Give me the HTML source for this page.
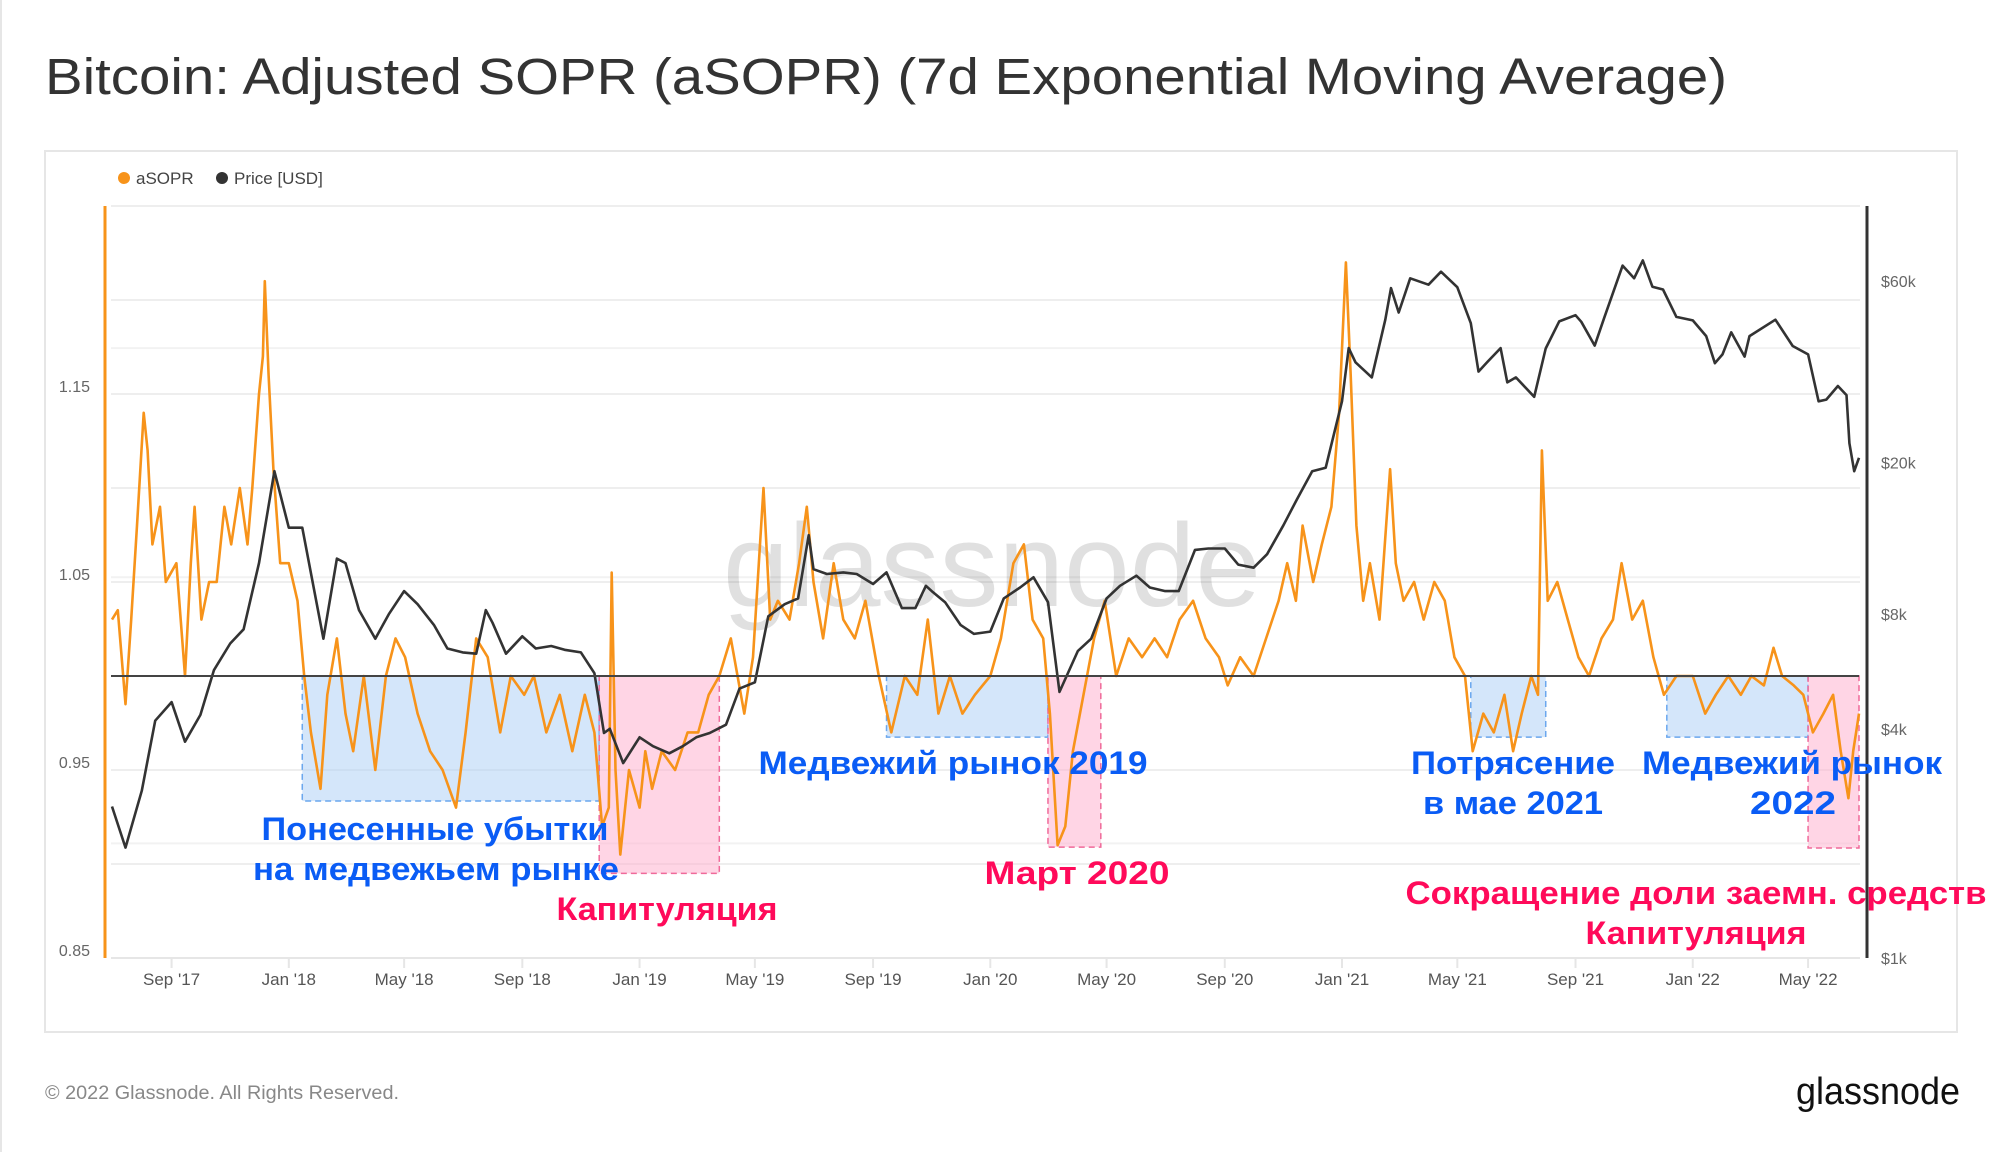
<!DOCTYPE html>
<html><head><meta charset="utf-8"><style>
body{margin:0;background:#fff;width:2000px;height:1152px;overflow:hidden;font-family:"Liberation Sans","DejaVu Sans",sans-serif;}
</style></head><body>
<svg id="chart" width="2000" height="1152" viewBox="0 0 2000 1152" xmlns="http://www.w3.org/2000/svg" style="font-family:'Liberation Sans','DejaVu Sans',sans-serif">
<rect x="0" y="0" width="2000" height="1152" fill="#fff"/>
<rect x="0" y="0" width="2" height="1152" fill="#e6e6e6"/>
<text x="45" y="94" font-size="51" fill="#333" textLength="1682" lengthAdjust="spacingAndGlyphs">Bitcoin: Adjusted SOPR (aSOPR) (7d Exponential Moving Average)</text>
<rect x="45" y="151" width="1912" height="881" fill="#fff" stroke="#e6e6e6" stroke-width="2"/>
<g>
<circle cx="124" cy="178" r="6" fill="#f7931a"/>
<text x="136" y="184" font-size="17" fill="#444">aSOPR</text>
<circle cx="222" cy="178" r="6" fill="#333"/>
<text x="234" y="184" font-size="17" fill="#444">Price [USD]</text>
</g>
<g id="grid"></g>
<g id="zones"></g>
<text x="992" y="606" font-size="118" fill="#000" fill-opacity="0.12" text-anchor="middle">glassnode</text>
<g id="series"></g>
<g id="axes"></g>
<g id="notes" font-weight="bold" font-size="32" text-anchor="middle" lengthAdjust="spacingAndGlyphs">
<text x="435" y="840" fill="#0a5cf5" textLength="347" lengthAdjust="spacingAndGlyphs">Понесенные убытки</text>
<text x="436" y="880" fill="#0a5cf5" textLength="366" lengthAdjust="spacingAndGlyphs">на медвежьем рынке</text>
<text x="667" y="920" fill="#ff0a5a" textLength="221" lengthAdjust="spacingAndGlyphs">Капитуляция</text>
<text x="953" y="774" fill="#0a5cf5" textLength="389" lengthAdjust="spacingAndGlyphs">Медвежий рынок 2019</text>
<text x="1077" y="884" fill="#ff0a5a" textLength="185" lengthAdjust="spacingAndGlyphs">Март 2020</text>
<text x="1513" y="774" fill="#0a5cf5" textLength="204" lengthAdjust="spacingAndGlyphs">Потрясение</text>
<text x="1513" y="814" fill="#0a5cf5" textLength="180" lengthAdjust="spacingAndGlyphs">в мае 2021</text>
<text x="1792" y="774" fill="#0a5cf5" textLength="300" lengthAdjust="spacingAndGlyphs">Медвежий рынок</text>
<text x="1793" y="814" fill="#0a5cf5" textLength="86" lengthAdjust="spacingAndGlyphs">2022</text>
<text x="1696" y="904" fill="#ff0a5a" textLength="581" lengthAdjust="spacingAndGlyphs">Сокращение доли заемн. средств</text>
<text x="1696" y="944" fill="#ff0a5a" textLength="221" lengthAdjust="spacingAndGlyphs">Капитуляция</text>
</g>
<text x="45" y="1099" font-size="19" fill="#888" textLength="354" lengthAdjust="spacingAndGlyphs">© 2022 Glassnode. All Rights Reserved.</text>
<text x="1796" y="1104" font-size="38" fill="#111" textLength="164" lengthAdjust="spacingAndGlyphs">glassnode</text>
</svg>
<script>
const asoprDates=["2017-07-01","2017-07-07","2017-07-15","2017-07-21","2017-07-27","2017-08-03","2017-08-07","2017-08-12","2017-08-20","2017-08-26","2017-09-06","2017-09-15","2017-09-21","2017-09-25","2017-10-02","2017-10-10","2017-10-18","2017-10-26","2017-11-02","2017-11-11","2017-11-19","2017-11-24","2017-12-01","2017-12-05","2017-12-07","2017-12-11","2017-12-16","2017-12-23","2018-01-01","2018-01-10","2018-01-17","2018-01-24","2018-02-03","2018-02-10","2018-02-20","2018-03-01","2018-03-09","2018-03-20","2018-04-01","2018-04-12","2018-04-22","2018-05-02","2018-05-15","2018-05-28","2018-06-10","2018-06-24","2018-07-04","2018-07-15","2018-07-27","2018-08-09","2018-08-20","2018-09-03","2018-09-13","2018-09-26","2018-10-10","2018-10-23","2018-11-05","2018-11-15","2018-11-23","2018-11-30","2018-12-03","2018-12-07","2018-12-12","2018-12-21","2019-01-01","2019-01-07","2019-01-14","2019-01-24","2019-02-07","2019-02-20","2019-03-03","2019-03-14","2019-03-25","2019-04-06","2019-04-20","2019-04-29","2019-05-10","2019-05-17","2019-05-25","2019-06-06","2019-06-16","2019-06-24","2019-07-01","2019-07-11","2019-07-22","2019-08-01","2019-08-13","2019-08-24","2019-09-07","2019-09-20","2019-10-04","2019-10-17","2019-10-28","2019-11-08","2019-11-20","2019-12-03","2019-12-16","2020-01-01","2020-01-12","2020-01-25","2020-02-05","2020-02-14","2020-02-25","2020-03-03","2020-03-11","2020-03-19","2020-03-27","2020-04-07","2020-04-18","2020-04-29","2020-05-11","2020-05-24","2020-06-07","2020-06-20","2020-07-03","2020-07-16","2020-07-30","2020-08-12","2020-08-26","2020-09-04","2020-09-17","2020-10-01","2020-10-14","2020-10-27","2020-11-05","2020-11-14","2020-11-21","2020-12-02","2020-12-11","2020-12-21","2020-12-29","2021-01-05","2021-01-10","2021-01-16","2021-01-23","2021-01-30","2021-02-09","2021-02-20","2021-02-26","2021-03-06","2021-03-17","2021-03-27","2021-04-07","2021-04-18","2021-04-28","2021-05-09","2021-05-17","2021-05-28","2021-06-08","2021-06-19","2021-06-28","2021-07-07","2021-07-17","2021-07-24","2021-07-28","2021-08-03","2021-08-13","2021-08-24","2021-09-04","2021-09-15","2021-09-28","2021-10-10","2021-10-19","2021-10-30","2021-11-10","2021-11-21","2021-12-02","2021-12-15","2022-01-01","2022-01-14","2022-01-25","2022-02-07","2022-02-20","2022-03-03","2022-03-16","2022-03-26","2022-04-04","2022-04-16","2022-04-26","2022-05-06","2022-05-17","2022-05-27","2022-06-04","2022-06-12","2022-06-17","2022-06-23"];
const asoprValues=[1.03,1.035,0.985,1.03,1.08,1.14,1.12,1.07,1.09,1.05,1.06,1.0,1.06,1.09,1.03,1.05,1.05,1.09,1.07,1.10,1.07,1.10,1.15,1.17,1.21,1.16,1.11,1.06,1.06,1.04,1.0,0.97,0.94,0.99,1.02,0.98,0.96,1.0,0.95,1.0,1.02,1.01,0.98,0.96,0.95,0.93,0.97,1.02,1.01,0.97,1.0,0.99,1.0,0.97,0.99,0.96,0.99,0.97,0.92,0.93,1.055,0.95,0.905,0.95,0.93,0.96,0.94,0.96,0.95,0.97,0.97,0.99,1.0,1.02,0.98,1.01,1.1,1.03,1.04,1.03,1.06,1.09,1.05,1.02,1.06,1.03,1.02,1.04,1.0,0.97,1.0,0.99,1.03,0.98,1.0,0.98,0.99,1.0,1.02,1.06,1.07,1.03,1.02,0.98,0.91,0.92,0.96,0.99,1.02,1.04,1.0,1.02,1.01,1.02,1.01,1.03,1.04,1.02,1.01,0.995,1.01,1.0,1.02,1.04,1.06,1.04,1.08,1.05,1.07,1.09,1.14,1.22,1.16,1.08,1.04,1.06,1.03,1.11,1.06,1.04,1.05,1.03,1.05,1.04,1.01,1.0,0.96,0.98,0.97,0.99,0.96,0.98,1.0,0.99,1.12,1.04,1.05,1.03,1.01,1.0,1.02,1.03,1.06,1.03,1.04,1.01,0.99,1.0,1.0,0.98,0.99,1.0,0.99,1.0,0.995,1.015,1.0,0.995,0.99,0.97,0.98,0.99,0.96,0.935,0.96,0.98];
const priceDates=["2017-07-01","2017-07-15","2017-08-01","2017-08-15","2017-09-01","2017-09-15","2017-10-01","2017-10-15","2017-11-01","2017-11-15","2017-12-01","2017-12-17","2018-01-01","2018-01-15","2018-02-06","2018-02-20","2018-03-01","2018-03-15","2018-04-01","2018-04-15","2018-05-01","2018-05-15","2018-06-01","2018-06-15","2018-07-01","2018-07-15","2018-07-25","2018-08-01","2018-08-15","2018-09-01","2018-09-15","2018-10-01","2018-10-15","2018-11-01","2018-11-15","2018-11-25","2018-12-01","2018-12-15","2019-01-01","2019-01-15","2019-02-01","2019-02-15","2019-03-01","2019-03-15","2019-04-01","2019-04-15","2019-05-01","2019-05-15","2019-06-01","2019-06-15","2019-06-26","2019-07-01","2019-07-15","2019-08-01","2019-08-15","2019-09-01","2019-09-15","2019-10-01","2019-10-15","2019-10-26","2019-11-01","2019-11-15","2019-12-01","2019-12-15","2020-01-01","2020-01-15","2020-02-01","2020-02-15","2020-03-01","2020-03-13","2020-04-01","2020-04-15","2020-05-01","2020-05-15","2020-06-01","2020-06-15","2020-07-01","2020-07-15","2020-08-01","2020-08-15","2020-09-01","2020-09-15","2020-10-01","2020-10-15","2020-11-01","2020-11-15","2020-12-01","2020-12-15","2021-01-01","2021-01-08","2021-01-15","2021-02-01","2021-02-15","2021-02-21","2021-03-01","2021-03-13","2021-04-01","2021-04-14","2021-05-01","2021-05-15","2021-05-23","2021-06-01","2021-06-15","2021-06-22","2021-07-01","2021-07-20","2021-08-01","2021-08-15","2021-09-01","2021-09-07","2021-09-21","2021-10-01","2021-10-20","2021-11-01","2021-11-10","2021-11-20","2021-12-01","2021-12-15","2022-01-01","2022-01-15","2022-01-24","2022-02-01","2022-02-10","2022-02-24","2022-03-01","2022-03-28","2022-04-15","2022-05-01","2022-05-12","2022-05-20","2022-06-01","2022-06-10","2022-06-13","2022-06-18","2022-06-23"];
const priceValues=[2500,1950,2750,4200,4700,3700,4350,5700,6700,7300,10900,19000,13500,13500,6900,11200,10900,8200,6900,8000,9200,8500,7500,6500,6350,6300,8200,7600,6300,7000,6500,6600,6450,6350,5600,3900,4000,3250,3800,3600,3450,3600,3800,3900,4100,5100,5300,7900,8500,8800,12900,10500,10200,10300,10200,9600,10300,8300,8300,9500,9200,8600,7500,7100,7200,8800,9400,10000,8600,5000,6400,6900,8800,9500,10100,9400,9200,9200,11800,11900,11900,10800,10600,11500,13700,16000,19000,19400,29000,40000,36700,33500,47500,57500,49600,61000,58700,63500,57800,46500,34700,36700,40000,32500,33500,29800,39900,47000,48800,46900,40600,48100,65900,61000,68000,58000,57000,48300,47300,43000,36500,38500,44000,38000,43000,47500,40500,38500,29000,29300,31800,30100,22500,19000,20600];
const leftTicks=[0.85,0.95,1.05,1.15];
const rightTicks=[1000,4000,8000,20000,60000];
const rightTickLabels=["$1k","$4k","$8k","$20k","$60k"];
const xTickDates=["2017-09-01","2018-01-01","2018-05-01","2018-09-01","2019-01-01","2019-05-01","2019-09-01","2020-01-01","2020-05-01","2020-09-01","2021-01-01","2021-05-01","2021-09-01","2022-01-01","2022-05-01"];
const xTickLabels=["Sep '17","Jan '18","May '18","Sep '18","Jan '19","May '19","Sep '19","Jan '20","May '20","Sep '20","Jan '21","May '21","Sep '21","Jan '22","May '22"];
const blueZones=[["2018-01-15","2018-11-20",0.9335],["2019-09-15","2020-03-01",0.9675],["2021-05-15","2021-08-01",0.9675],["2021-12-05","2022-05-01",0.9675]];
const pinkZones=[["2018-11-20","2019-03-25",0.895],["2020-03-01","2020-04-25",0.909],["2022-05-01","2022-06-23",0.9085]];
const NS="http://www.w3.org/2000/svg";
const PL=105,PR=1866,PT=206,PB=958;
const t0=Date.UTC(2017,6,1),t1=Date.UTC(2022,5,23);
const x0=112,x1=1859;
function tx(d){const p=d.split('-');const t=Date.UTC(+p[0],+p[1]-1,+p[2]);return x0+(t-t0)/(t1-t0)*(x1-x0);}
function ya(v){return PB-(v-0.85)/(1.25-0.85)*(PB-PT);}
function yp(v){return PB-(Math.log10(v)-3)*380.7;}
function mk(tag,attrs,parent){const e=document.createElementNS(NS,tag);for(const k in attrs)e.setAttribute(k,attrs[k]);parent.appendChild(e);return e;}
const grid=document.getElementById('grid'),zones=document.getElementById('zones'),series=document.getElementById('series'),axes=document.getElementById('axes');
[0.9,1.0,1.1,1.2,0.85,0.95,1.05,1.15,1.25].forEach(v=>{const l=mk('line',{x1:PL+6,x2:PR-6,y1:ya(v),y2:ya(v),stroke:'#eeeeee','stroke-width':2},grid);});
[2000,10000,40000].forEach(v=>{const l=mk('line',{x1:PL+6,x2:PR-6,y1:yp(v),y2:yp(v),stroke:'#f2f2f2','stroke-width':2},grid);});
blueZones.forEach(z=>{const a=tx(z[0]),b=tx(z[1]);const r=mk('rect',{x:a,y:ya(1.0),width:b-a,height:ya(z[2])-ya(1.0),fill:'#a9cdf5','fill-opacity':0.5,stroke:'#6aa7ee','stroke-width':1.5,'stroke-dasharray':'6 4'},zones);});
pinkZones.forEach(z=>{const a=tx(z[0]),b=tx(z[1]);const r=mk('rect',{x:a,y:ya(1.0),width:b-a,height:ya(z[2])-ya(1.0),fill:'#ffb3cf','fill-opacity':0.55,stroke:'#f06a9a','stroke-width':1.5,'stroke-dasharray':'6 4'},zones);});
let d='';asoprDates.forEach((dt,i)=>{d+=(i?'L':'M')+tx(dt).toFixed(1)+' '+ya(asoprValues[i]).toFixed(1);});
const la=mk('path',{d:d,fill:'none',stroke:'#f7931a','stroke-width':2.6,'stroke-linejoin':'round'},series);


let d2='';priceDates.forEach((dt,i)=>{d2+=(i?'L':'M')+tx(dt).toFixed(1)+' '+yp(priceValues[i]).toFixed(1);});
const lp=mk('path',{d:d2,fill:'none',stroke:'#333','stroke-width':2.6,'stroke-linejoin':'round'},series);


const base=mk('line',{x1:PL+6,x2:x1,y1:ya(1.0),y2:ya(1.0),stroke:'#444','stroke-width':2},series);


const la1=mk('line',{x1:PL,x2:PL,y1:PT,y2:PB,stroke:'#f7931a','stroke-width':3},axes);


const ra=mk('line',{x1:PR+1,x2:PR+1,y1:PT,y2:PB,stroke:'#333','stroke-width':3},axes);


const xa=mk('line',{x1:PL+6,x2:PR-6,y1:PB,y2:PB,stroke:'#e6e6e6','stroke-width':2},axes);


leftTicks.forEach(v=>{const t=mk('text',{x:90,y:ya(v)-2,'font-size':16,fill:'#666','text-anchor':'end'},axes);t.textContent=v.toFixed(2);});
rightTicks.forEach((v,i)=>{const t=mk('text',{x:1881,y:yp(v)+6,'font-size':16,fill:'#666'},axes);t.textContent=rightTickLabels[i];});
xTickDates.forEach((dt,i)=>{const x=tx(dt);const tk=mk('line',{x1:x,x2:x,y1:PB,y2:PB+10,stroke:'#e6e6e6','stroke-width':2},axes);const t=mk('text',{x:x,y:PB+27,'font-size':17,fill:'#555','text-anchor':'middle'},axes);t.textContent=xTickLabels[i];});
</script>
</body></html>
